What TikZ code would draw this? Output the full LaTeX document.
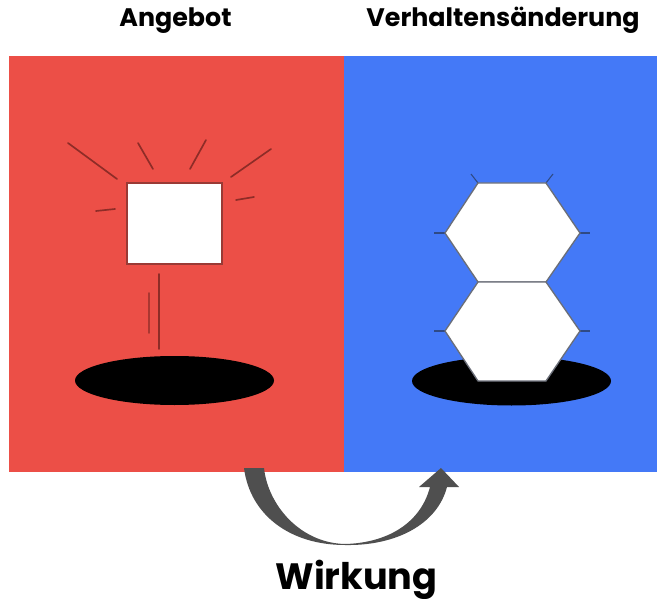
\documentclass[tikz,border=0pt]{standalone}
\usepackage{fontspec}
\setmainfont{Poppins}
\definecolor{panelred}{HTML}{EC4F47}
\definecolor{panelblue}{HTML}{4479F7}
\definecolor{rayred}{HTML}{8E2C27}
\definecolor{boxedge}{HTML}{9A3A35}
\definecolor{tickblue}{HTML}{2F4A85}
\definecolor{hexedge}{HTML}{6A6E78}
\definecolor{arrowgrey}{HTML}{4F4F4F}
\tikzset{
  ray/.style={draw=rayred,line width=1.25pt,line cap=round},
  tick/.style={draw=tickblue,line width=0.8pt},
  hexcell/.style={draw=hexedge,fill=white,line width=1pt,line join=round},
  hole/.style={fill=black,draw=none},
  heading/.style={font=\bfseries\fontsize{19}{22}\selectfont,text=black,inner sep=0pt,anchor=base},
  bigheading/.style={font=\bfseries\fontsize{27.5}{32}\selectfont,text=black,inner sep=0pt,anchor=base}
}
\begin{document}
\begin{tikzpicture}[x=0.75pt,y=-0.75pt]
\useasboundingbox (0,0) rectangle (657,599);
\fill[white] (0,0) rectangle (657,599);
% coloured panels
\fill[panelred] (9,56) rectangle (344,472);
\fill[panelblue] (344,56) rectangle (657,472);
% offer: glowing square above a hole
\fill[hole] (174.5,380.5) ellipse [x radius=99.5,y radius=24.5];
\draw[draw=boxedge,fill=white,line width=1.2pt] (127,183) rectangle (222,264);
\draw[ray] (68,143) -- (117,179);
\draw[ray] (138,143) -- (153,169);
\draw[ray] (206,140) -- (190,169);
\draw[ray] (271,149) -- (231,177);
\draw[ray] (236,200) -- (254,197);
\draw[ray] (96,211) -- (115,209);
\draw[ray] (159,274) -- (159,349);
\draw[ray,draw=rayred!70!panelred] (149,293) -- (149,333);
% behaviour change: stacked hexagons in a hole
\fill[hole] (511.5,381) ellipse [x radius=99.5,y radius=24.5];
\draw[tick] (471,174) -- (478,183);
\draw[tick] (553,174) -- (546,183);
\draw[tick] (434,233) -- (445,233);
\draw[tick] (580,233) -- (590,233);
\draw[tick] (434,331) -- (445,331);
\draw[tick] (580,331) -- (590,331);
\draw[hexcell] (478,183) -- (546,183) -- (580,233) -- (546,282) -- (478,282) -- (445,233) -- cycle;
\draw[hexcell] (478,282) -- (546,282) -- (580,331) -- (546,381) -- (478,381) -- (445,331) -- cycle;
% curved arrow between the panels
\fill[arrowgrey] (244,468) -- (264,468)
  .. controls (268,505) and (300,543) .. (345,544)
  .. controls (385,543) and (420,525) .. (430,487)
  -- (419,487) -- (441,468) -- (459,487) -- (447,487)
  .. controls (437,525) and (395,546) .. (345,545)
  .. controls (290,545) and (250,515) .. (244,468) -- cycle;
% headings
\node[heading] (angebot) at (175.5,27) {Angebot};
\node[heading] (verhalten) at (503,27) {Verhaltensänderung};
\node[bigheading] (wirkung) at (356.5,589.5) {Wirkung};
\end{tikzpicture}
\end{document}
